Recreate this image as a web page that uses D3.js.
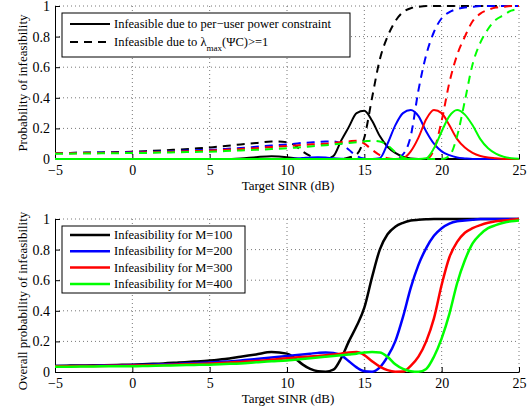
<!DOCTYPE html>
<html>
<head>
<meta charset="utf-8">
<script src="https://cdn.jsdelivr.net/npm/d3@7"></script>
<style>
  body { margin: 0; background: #fff; }
  svg text { font-family: "Liberation Serif", "Times New Roman", Times, serif !important; fill: #000; }
</style>
</head>
<body>
<div id="chart"></div>
<script>
// SINR grid (dB) shared by every series
var sinr = [-5,-4,-3,-2,-1,0,1,2,3,4,5,6,7,8,9,10,
  10.5,11,11.5,12,12.5,13,13.5,14,14.5,15,15.5,16,16.5,17,17.5,18,18.5,19,19.5,20,
  20.5,21,21.5,22,22.5,23,23.5,24,24.5,25];

// top panel: infeasible due to per-user power constraint (solid)
var powerM100 = [0,0,0,0,0,0,0,0,0,0,0,0,0.004,0.012,0.018,0.012,
  0.005,0,0,0,0,0.02,0.12,0.21,0.3,0.315,0.25,0.15,0.08,0.04,0.015,0.003,0,0,0,0,
  0,0,0,0,0,0,0,0,0,0];
var powerM200 = [0,0,0,0,0,0,0,0,0,0,0,0,0,0,0,0,
  0.003,0.006,0.01,0.012,0.01,0.005,0.002,0,0,0,0,0.005,0.1,0.22,0.3,0.32,0.28,0.18,0.1,0.05,
  0.025,0.01,0.004,0,0,0,0,0,0,0];
var powerM300 = [0,0,0,0,0,0,0,0,0,0,0,0,0,0,0,0,
  0,0,0,0,0,0,0,0,0,0,0,0,0,0,0.005,0.05,0.14,0.26,0.32,0.3,
  0.22,0.13,0.075,0.04,0.02,0.01,0.005,0,0,0];
var powerM400 = [0,0,0,0,0,0,0,0,0,0,0,0,0,0,0,0,
  0,0,0,0,0,0,0,0,0,0,0,0,0,0,0,0,0,0.005,0.07,0.18,
  0.28,0.32,0.29,0.22,0.13,0.07,0.035,0.015,0.005,0.002];

// top panel: infeasible due to lambda_max(PsiC) >= 1 (dashed)
var lambdaM100 = [0.04,0.04,0.042,0.043,0.045,0.048,0.052,0.056,0.062,0.068,0.075,0.085,0.095,0.105,0.115,0.11,
  0.09,0.05,0.02,0.005,0.001,0,0,0.01,0.03,0.14,0.4,0.65,0.8,0.9,0.96,0.985,0.995,1,1,1,
  1,1,1,1,1,1,1,1,1,1];
var lambdaM200 = [0.04,0.04,0.041,0.042,0.043,0.045,0.047,0.05,0.053,0.057,0.06,0.066,0.072,0.08,0.088,0.095,
  0.1,0.105,0.108,0.11,0.115,0.115,0.1,0.06,0.02,0.003,0,0,0,0,0.03,0.15,0.45,0.68,0.83,0.92,
  0.96,0.98,0.99,0.995,1,1,1,1,1,1];
var lambdaM300 = [0.038,0.038,0.039,0.04,0.041,0.042,0.044,0.046,0.049,0.052,0.055,0.06,0.065,0.07,0.078,0.085,
  0.088,0.092,0.095,0.098,0.1,0.105,0.11,0.115,0.12,0.1,0.06,0.025,0.005,0,0,0,0,0,0.06,0.25,
  0.5,0.68,0.8,0.9,0.95,0.975,0.99,0.995,1,1];
var lambdaM400 = [0.035,0.035,0.036,0.037,0.038,0.039,0.04,0.042,0.044,0.046,0.048,0.052,0.056,0.06,0.065,0.07,
  0.074,0.078,0.082,0.086,0.09,0.095,0.1,0.105,0.11,0.115,0.12,0.115,0.09,0.045,0.01,0,0,0,0,0,
  0.02,0.15,0.38,0.62,0.76,0.85,0.91,0.94,0.97,0.98];

// bottom panel: overall probability of infeasibility
var overallM100 = [0.04,0.042,0.043,0.044,0.046,0.048,0.052,0.056,0.062,0.068,0.075,0.085,0.1,0.115,0.13,0.12,
  0.09,0.05,0.02,0.005,0.002,0.015,0.09,0.2,0.3,0.42,0.62,0.8,0.9,0.95,0.975,0.99,0.995,0.998,1,1,
  1,1,1,1,1,1,1,1,1,1];
var overallM200 = [0.04,0.04,0.041,0.042,0.043,0.045,0.047,0.05,0.053,0.057,0.062,0.068,0.075,0.085,0.095,0.105,
  0.11,0.115,0.12,0.125,0.128,0.125,0.11,0.07,0.03,0.005,0.002,0.03,0.1,0.2,0.36,0.55,0.7,0.81,0.89,0.94,
  0.97,0.985,0.99,0.995,1,1,1,1,1,1];
var overallM300 = [0.038,0.038,0.039,0.04,0.041,0.042,0.044,0.046,0.049,0.052,0.055,0.06,0.066,0.072,0.08,0.09,
  0.094,0.098,0.102,0.105,0.11,0.115,0.12,0.128,0.13,0.11,0.07,0.035,0.012,0.002,0.003,0.04,0.1,0.2,0.35,0.57,
  0.75,0.85,0.91,0.94,0.96,0.975,0.985,0.99,0.995,1];
var overallM400 = [0.035,0.035,0.036,0.037,0.038,0.038,0.04,0.042,0.044,0.046,0.048,0.052,0.056,0.063,0.07,0.075,
  0.08,0.085,0.09,0.095,0.1,0.105,0.11,0.115,0.12,0.128,0.13,0.128,0.1,0.05,0.02,0.005,0.001,0.02,0.1,0.22,
  0.38,0.58,0.73,0.84,0.9,0.94,0.96,0.975,0.985,0.99];

var xTicks = [-5,0,5,10,15,20,25];
var yTicks = [0,0.2,0.4,0.6,0.8,1];
var colors = ["#000000","#0000ff","#ff0000","#00ff00"];
var topLegend = ["Infeasible due to per\u2212user power constraint", "Infeasible due to \u03bb"];
var bottomLegend = ["Infeasibility for M=100","Infeasibility for M=200","Infeasibility for M=300","Infeasibility for M=400"];

var W = 527, H = 408;
var svg = d3.select("#chart").append("svg").attr("width", W).attr("height", H);

var x = d3.scaleLinear().domain([-5,25]).range([55,519]);
var fmt = function(d){ return String(d).replace("-", "\u2212"); };

var drawPanel = function(top, bottom, ylabel, labelMid){
    var y = d3.scaleLinear().domain([0,1]).range([bottom, top]);
    var g = svg.append("g");

    // dotted grid
    g.append("g").selectAll("line.gx").data(xTicks.slice(1)).enter().append("line")
        .attr("x1", x).attr("x2", x).attr("y1", top).attr("y2", bottom)
        .style("stroke","#555").style("stroke-width",0.8).style("stroke-dasharray","1,3");
    g.append("g").selectAll("line.gy").data(yTicks.slice(1)).enter().append("line")
        .attr("y1", y).attr("y2", y).attr("x1", x(-5)).attr("x2", x(25))
        .style("stroke","#555").style("stroke-width",0.8).style("stroke-dasharray","1,3");

    var xa = g.append("g").attr("transform","translate(0,"+bottom+")")
        .call(d3.axisBottom(x).tickValues(xTicks).tickFormat(fmt).tickSize(-5).tickSizeOuter(0).tickPadding(6));
    var ya = g.append("g").attr("transform","translate("+x(-5)+",0)")
        .call(d3.axisLeft(y).tickValues(yTicks).tickFormat(fmt).tickSize(-5).tickSizeOuter(0).tickPadding(5));
    [xa, ya].forEach(function(a){
        a.attr("font-family", null);
        a.selectAll("text").style("font-size","14px");
        a.select(".domain").style("stroke","#000");
    });

    g.append("text").attr("x", 288).attr("y", bottom+31).style("text-anchor","middle")
        .style("font-size","13px").text("Target SINR (dB)");
    g.append("text").attr("transform","translate(27,"+labelMid+") rotate(-90)")
        .style("text-anchor","middle").style("font-size","13px").text(ylabel);

    return {g: g, y: y};
};

var addLine = function(panel, vals, color, dashed, width){
    var line = d3.line().x(function(d,i){ return x(sinr[i]); }).y(function(d){ return panel.y(d); })
        .curve(d3.curveMonotoneX);
    panel.g.append("path").datum(vals).attr("d", line)
        .style("fill","none").style("stroke",color).style("stroke-width",width)
        .style("stroke-dasharray", dashed ? "8,6" : null);
};

// ---- top panel
var p1 = drawPanel(6, 159, "Probability of infeasibility", 83);
var powerSeries = [powerM100, powerM200, powerM300, powerM400];
var lambdaSeries = [lambdaM100, lambdaM200, lambdaM300, lambdaM400];
powerSeries.forEach(function(s,i){
    addLine(p1, lambdaSeries[i], colors[i], true, 2);
    addLine(p1, s, colors[i], false, 2);
});

var lg1 = svg.append("g");
lg1.append("rect").attr("x",62).attr("y",13).attr("width",288).attr("height",44)
    .style("fill","#fff").style("stroke","#000").style("stroke-width",1);
[0,1].forEach(function(i){
    var yy = 24 + i*18;
    lg1.append("line").attr("x1",70).attr("x2",110).attr("y1",yy).attr("y2",yy)
        .style("stroke","#000").style("stroke-width",2).style("stroke-dasharray", i ? "8,6" : null);
    var t = lg1.append("text").attr("x",114).attr("y",yy+4).style("font-size","12.5px").text(topLegend[i]);
    if(i==1){
        t.append("tspan").attr("dy",5).style("font-size","9px").text("max");
        t.append("tspan").attr("dy",-5).text("(\u03a8C)>=1");
    }
});

// ---- bottom panel
var p2 = drawPanel(219, 372, "Overall probability of infeasibility", 301);
[overallM100, overallM200, overallM300, overallM400].forEach(function(s,i){
    addLine(p2, s, colors[i], false, 2.5);
});

var lg2 = svg.append("g");
lg2.append("rect").attr("x",62).attr("y",226).attr("width",183).attr("height",67)
    .style("fill","#fff").style("stroke","#000").style("stroke-width",1);
bottomLegend.forEach(function(name,i){
    var yy = 235 + i*16.3;
    lg2.append("line").attr("x1",70).attr("x2",110).attr("y1",yy).attr("y2",yy)
        .style("stroke",colors[i]).style("stroke-width",2.5);
    lg2.append("text").attr("x",114).attr("y",yy+4).style("font-size","12.5px").text(name);
});
</script>
</body>
</html>
